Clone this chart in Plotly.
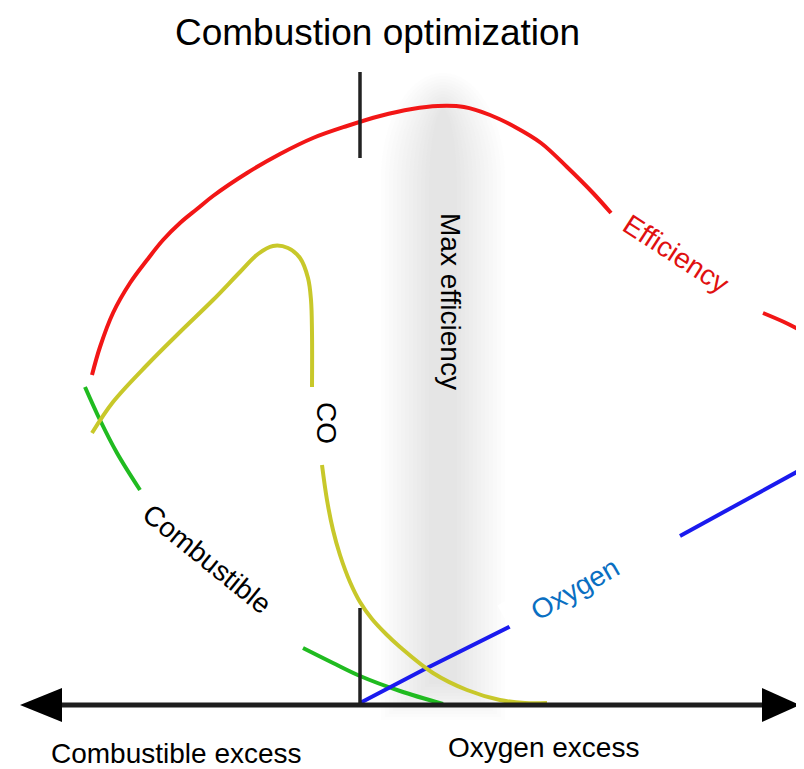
import numpy as np
import plotly.graph_objects as go

# ---- data (diagram units: x = oxygen/combustible balance, y = level) ----
eff_x = [-268, -260, -247, -230, -213, -197, -180, -163, -147, -113, -80, -47, -13, 20, 52, 78, 104, 130, 155, 181, 207,
         233, 251, None, 403, 424, 444]
eff_y = [330, 358, 392, 422, 445, 465, 482, 496, 509, 532, 551, 567, 579, 589, 596, 599, 598, 590, 578, 562, 538,
         512, 492, None, 392, 383, 373]

co_x = [-268, -247, -213, -180, -147, -120, -102, -87, -72, -60, -52, -49, -48, -48,
        None, -38, -33, -27, -20, -10, 0, 12, 26, 40, 73, 107, 140, 165, 187]
co_y = [272, 303, 340, 373, 405, 433, 451, 459, 457, 447, 427, 405, 372, 318,
        None, 240, 205, 175, 150, 123, 103, 86, 71, 58, 32, 15, 5, 2, 2]

comb_x = [-275, -260, -243, -220, None, -57, -27, 0, 40, 83]
comb_y = [318, 285, 252, 215, None, 57, 42, 29, 14, 1]

oxy_x = [0, 63, 157, None, 320, 382, 444]
oxy_y = [2, 35, 82, None, 169, 203, 237]

title_text = "Combustion optimization"
left_label = "Combustible excess"
right_label = "Oxygen excess"

# ---- layout constants ----
X_RANGE = [-352, 444]
Y_RANGE = [-64, 697]
AXIS_X0, AXIS_X1 = -298, 402      # shaft ends
TIP_L, TIP_R = -340, 440          # arrow tips
ARROW_H = 17
MARK_X = 0
MARK_TOP = (547, 633)
MARK_BOT = (0, 97)

FONT = "Liberation Sans, Arial, sans-serif"

fig = go.Figure()

# gray "max efficiency" band, layered for a soft look
band_cx = 83
n_layers = 13
for i in range(n_layers):
    hw = 62 - 4 * i
    top = 632 - 3 * i
    r = 105 - 2 * i
    bot = -15 + 3 * i
    t = np.linspace(np.pi, 0, 40)
    xs = [band_cx - hw] + list(band_cx + hw * np.cos(t)) + [band_cx + hw]
    ys = [bot] + list(top - r + r * np.sin(t)) + [bot]
    path = "M " + " L ".join(f"{a:.1f},{b:.1f}" for a, b in zip(xs, ys)) + " Z"
    fig.add_shape(type="path", path=path, xref="x", yref="y", line_width=0,
                  fillcolor="rgba(130,130,130,0.02)", layer="below")

# vertical reference mark
for y0, y1 in (MARK_TOP, MARK_BOT):
    fig.add_shape(type="line", x0=MARK_X, x1=MARK_X, y0=y0, y1=y1, xref="x", yref="y",
                  line=dict(color="#222222", width=3.5))

# horizontal axis with arrowheads
fig.add_shape(type="line", x0=AXIS_X0, x1=AXIS_X1, y0=0, y1=0, xref="x", yref="y",
              line=dict(color="#1e1e1e", width=5))
fig.add_shape(type="path", xref="x", yref="y", fillcolor="#000000", line_width=0,
              path=f"M {TIP_L},0 L {AXIS_X0},{ARROW_H} L {AXIS_X0},{-ARROW_H} Z")
fig.add_shape(type="path", xref="x", yref="y", fillcolor="#000000", line_width=0,
              path=f"M {TIP_R},0 L {AXIS_X1},{ARROW_H} L {AXIS_X1},{-ARROW_H} Z")

# curves
fig.add_trace(go.Scatter(x=comb_x, y=comb_y, mode="lines", line=dict(color="#20bb20", width=4, shape="spline"),
                         hoverinfo="skip"))
fig.add_trace(go.Scatter(x=oxy_x, y=oxy_y, mode="lines", line=dict(color="#1a1aee", width=4),
                         hoverinfo="skip"))
fig.add_trace(go.Scatter(x=co_x, y=co_y, mode="lines", line=dict(color="#c8c82a", width=4, shape="spline"),
                         hoverinfo="skip"))
fig.add_trace(go.Scatter(x=eff_x, y=eff_y, mode="lines", line=dict(color="#f21616", width=4, shape="spline"),
                         hoverinfo="skip"))

def label(text, x, y, size, color="#000000", angle=0, bg=None, w=None, h=None):
    kw = {}
    if w:
        kw["width"] = w
    if h:
        kw["height"] = h
    fig.add_annotation(x=x, y=y, xref="x", yref="y", text=text, showarrow=False, textangle=angle,
                       font=dict(family=FONT, size=size, color=color),
                       bgcolor=bg, borderpad=0, **kw)

label(title_text, 17, 673, 37)
label(left_label, -184, -48, 28, h=28)
label(right_label, 183, -42, 28)
label("Max efficiency", 91, 404, 28, angle=90)
label("CO", -34, 282, 28, angle=90, bg="#ffffff", w=60, h=50)
label("Combustible", -153, 146, 28, angle=39, bg="#ffffff", w=170, h=44)
label("Efficiency", 316, 451, 28, color="#e01010", angle=33, bg="#ffffff", w=140, h=44)
label("Oxygen", 215, 116, 28, color="#0a6fc2", angle=-30, bg="#ffffff", w=150, h=48)

fig.update_layout(
    width=796, height=761, margin=dict(l=0, r=0, t=0, b=0),
    paper_bgcolor="white", plot_bgcolor="white", showlegend=False,
    xaxis=dict(range=X_RANGE, visible=False, fixedrange=True),
    yaxis=dict(range=Y_RANGE, visible=False, fixedrange=True),
)

fig.write_html("out.html")
